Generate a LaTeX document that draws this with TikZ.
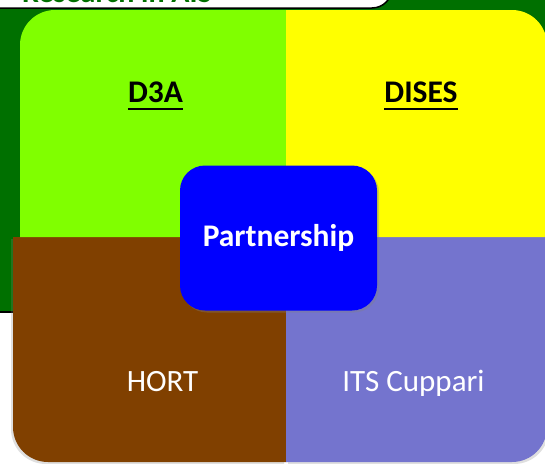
\documentclass[tikz,border=0pt]{standalone}
\usepackage{fontspec}
\setmainfont{Carlito}
\usetikzlibrary{shadows,calc}
\definecolor{bggreen}{RGB}{0,112,0}
\definecolor{lgreen}{RGB}{128,255,0}
\definecolor{qyellow}{RGB}{255,255,0}
\definecolor{qbrown}{RGB}{128,64,0}
\definecolor{qpurple}{RGB}{116,116,206}
\definecolor{qblue}{RGB}{0,0,255}
\tikzset{
  bigtxt/.style={font=\fontsize{31}{37}\selectfont, anchor=base, inner sep=0pt},
  headtxt/.style={bigtxt, font=\bfseries\fontsize{31.5}{37}\selectfont, text=black},
  lowtxt/.style={bigtxt, text=white},
  partbox/.style={fill=qblue, rounded corners=25pt, minimum width=197pt, minimum height=145pt,
    text=white, font=\bfseries\fontsize{31.5}{37}\selectfont,
    drop shadow={shadow xshift=2pt, shadow yshift=-2pt, opacity=0.35}},
}
\begin{document}
\begin{tikzpicture}[x=1pt,y=-1pt]
\useasboundingbox (0,0) rectangle (545,463);
\fill[white] (0,0) rectangle (545,463);
% green background
\fill[bggreen] (0,0) rectangle (545,312);
\draw[line width=2pt] (0,312) -- (545,312);
% title box (cut off)
\filldraw[fill=white, draw=black, line width=1.5pt, rounded corners=20pt] (-30,-40) rectangle (392,8);
\node[anchor=base east, inner sep=0pt, text=bggreen, font=\bfseries\fontsize{30}{36}\selectfont] (title) at (212,2) {Research in AIS};
% quadrants
\fill[qbrown, drop shadow={shadow xshift=-2pt, shadow yshift=-2pt, opacity=0.25}]
  (286,237) -- (13,237) [rounded corners=35pt] -- (13,462) [sharp corners] -- (286,462) -- cycle;
\fill[qpurple, drop shadow={shadow xshift=2pt, shadow yshift=-2pt, opacity=0.25}]
  (286,237) -- (547,237) [rounded corners=35pt] -- (547,462) [sharp corners] -- (286,462) -- cycle;
\fill[lgreen]
  (286,237) -- (20,237) [rounded corners=35pt] -- (20,10) [sharp corners] -- (286,10) -- cycle;
\fill[qyellow]
  (286,237) -- (286,10) [rounded corners=35pt] -- (547,10) [sharp corners] -- (547,237) -- cycle;
% labels
\node[headtxt] (d3a) at (155.5,102) {D3A};
\draw[line width=2pt] ($(d3a.base west)+(0,7)$) -- ($(d3a.base east)+(0,7)$);
\node[headtxt] (dises) at (421,102) {DISES};
\draw[line width=2pt] ($(dises.base west)+(0,7)$) -- ($(dises.base east)+(0,7)$);
\node[lowtxt] (hort) at (162.5,391) {HORT};
\node[lowtxt] (its) at (413.5,391) {ITS Cuppari};
% partnership
\node[partbox] (part) at (278.5,238) {Partnership};
\end{tikzpicture}
\end{document}
